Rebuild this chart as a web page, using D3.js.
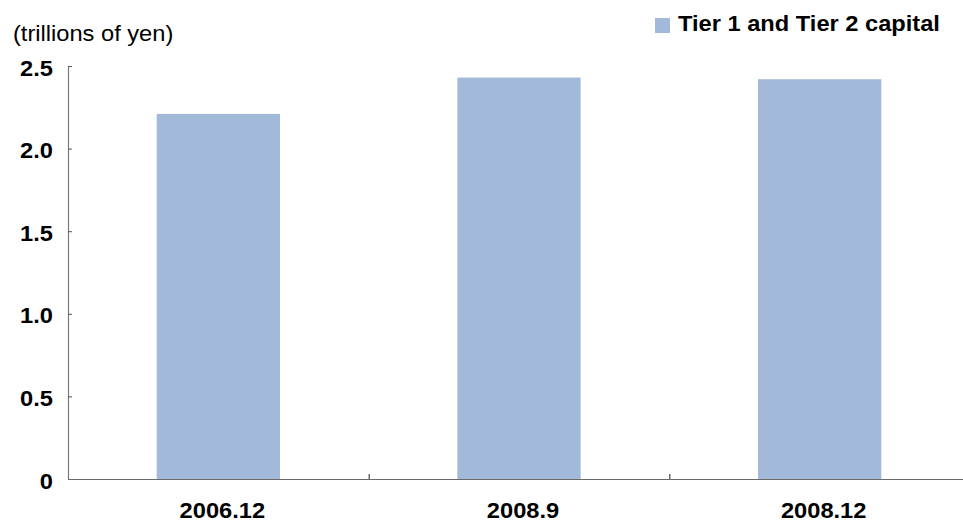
<!DOCTYPE html>
<html>
<head>
<meta charset="utf-8">
<script src="https://cdn.jsdelivr.net/npm/d3@7"></script>
<style>
  html, body { margin: 0; padding: 0; background: #fff; }
  svg { display: block; font-family: "Liberation Sans", Arial, sans-serif; }
</style>
</head>
<body>
<svg id="chart" width="963" height="523"></svg>
<script>
// Capital at period end, trillions of yen
const categories = ["2006.12", "2008.9", "2008.12"];
const capital = [2.21, 2.43, 2.42];
const yTicks = [0, 0.5, 1.0, 1.5, 2.0, 2.5];
const yTickLabels = ["0", "0.5", "1.0", "1.5", "2.0", "2.5"];
const seriesName = "Tier 1 and Tier 2 capital";
const unitLabel = "(trillions of yen)";

const barColor = "#a3b9da";
const svg = d3.select("#chart");

const plot = { left: 68, right: 970, top: 66, bottom: 479 };

const x = d3.scaleBand()
  .domain(categories)
  .range([plot.left, plot.right])
  .padding(0);

const y = d3.scaleLinear()
  .domain([0, 2.5])
  .range([plot.bottom, plot.top]);

const barW = x.bandwidth() * 0.41;

// Text with the wide, slightly stretched face used throughout
function label(x0, y0, txt, anchor, weight) {
  return svg.append("text")
    .attr("transform", `translate(${x0},${y0}) scale(1.1,1)`)
    .attr("text-anchor", anchor)
    .attr("font-size", 21.5)
    .attr("font-weight", weight)
    .attr("fill", "#000")
    .text(txt);
}

// Bars
svg.append("g")
  .selectAll("rect")
  .data(capital)
  .join("rect")
  .attr("x", (d, i) => x(categories[i]) + (x.bandwidth() - barW) / 2)
  .attr("y", d => y(d))
  .attr("width", barW)
  .attr("height", d => y(0) - y(d))
  .attr("fill", barColor);

// Y axis: ticks point into the plot
const yAxis = svg.append("g")
  .attr("transform", `translate(${plot.left},0)`)
  .call(d3.axisLeft(y).tickValues(yTicks).tickSize(-4).tickSizeOuter(0).tickFormat(""));
yAxis.select(".domain").attr("stroke", "#7a7a7a").attr("stroke-width", 1.2);
yAxis.selectAll(".tick line").attr("stroke", "#555");

yTicks.forEach((v, i) => label(53, y(v) + 9.5, yTickLabels[i], "end", "bold"));

// X axis: tick marks at category boundaries
const xb = d3.scaleLinear().domain([0, categories.length]).range([plot.left, plot.right]);
const xAxis = svg.append("g")
  .attr("transform", `translate(0,${plot.bottom})`)
  .call(d3.axisBottom(xb).tickValues(d3.range(1, categories.length)).tickSize(-5).tickSizeOuter(0).tickFormat(""));
xAxis.select(".domain").attr("stroke", "#6a6a6a").attr("stroke-width", 1.2);
xAxis.selectAll(".tick line").attr("stroke", "#222");

categories.forEach(c => label(x(c) + x.bandwidth() / 2 + 4, 518, c, "middle", "bold"));

// Unit label
label(13, 41, unitLabel, "start", "normal");

// Legend
svg.append("rect")
  .attr("x", 655).attr("y", 18)
  .attr("width", 15).attr("height", 15)
  .attr("fill", barColor);
label(678, 31, seriesName, "start", "bold");
</script>
</body>
</html>
